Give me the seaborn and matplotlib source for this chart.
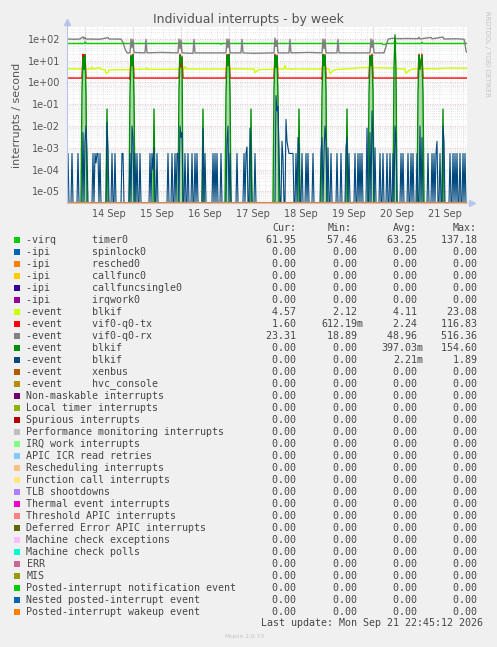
import numpy as np
import matplotlib
matplotlib.use("Agg")
import matplotlib.pyplot as plt
import matplotlib.ticker as mticker
from matplotlib.patches import Rectangle
import seaborn as sns

# ==========================================
# DATA (hours since 13 Sep 00:00, 30 min steps)
# ==========================================

W, H, DPI = 497, 647, 100
YMIN, YMAX = 2.9e-6, 355.0
T0, T1 = 15.25, 215.25

day_labels = ["14 Sep", "15 Sep", "16 Sep", "17 Sep", "18 Sep", "19 Sep", "20 Sep", "21 Sep"]
day_noon = [36, 60, 84, 108, 132, 156, 180, 204]
day_start = [24, 48, 72, 96, 120, 144, 168, 192]

# -virq timer0
timer_t = [15.25, 24.0, 24.25, 24.75, 72.25, 72.75, 73.25, 91.75, 92.25, 92.75,
           172.75, 173.25, 174.25, 174.75, 178.75, 179.25, 179.75, 192.25, 192.75, 193.25, 215.25]
timer_v = [62, 62, 74, 62, 62, 66, 62, 62, 57, 62,
           62, 56, 56, 62, 62, 98, 62, 62, 70, 62, 62]

# -event blkif (yellow-green)
blk1_t = [15.25, 20.0, 23.25, 23.75, 24.25, 27.25, 27.75, 28.25, 31.75, 32.25, 34.25, 34.75, 35.75,
          36.25, 47.25, 47.75, 48.75, 54.75, 55.25, 55.75, 71.75, 72.25, 72.75, 73.75, 74.25, 74.75,
          95.25, 95.75, 96.25, 108.75, 109.25, 110.25, 111.25, 119.25, 119.75, 120.75, 123.75, 124.25,
          124.75, 143.25, 143.75, 144.25, 146.25, 146.75, 148.25, 150.25, 163.0, 166.75, 167.25, 168.25,
          176.0, 184.25, 184.75, 186.25, 188.25, 191.75, 192.25, 192.75, 200.0, 206.0, 215.25]
blk1_v = [4.3, 4.2, 4.4, 9.0, 4.2, 4.2, 5.0, 4.2, 4.8, 4.0, 3.9, 2.6, 2.9,
          3.8, 3.9, 10.0, 4.1, 4.1, 4.7, 4.0, 4.1, 12.0, 4.1, 4.2, 5.5, 4.2,
          4.2, 11.0, 4.3, 4.2, 2.8, 3.4, 3.9, 4.1, 12.0, 4.2, 4.2, 6.0,
          4.2, 4.2, 10.0, 4.5, 4.2, 2.5, 3.5, 4.0, 4.8, 4.8, 12.0, 4.8,
          4.6, 4.2, 2.6, 3.6, 4.2, 4.3, 11.0, 4.4, 4.3, 4.6, 4.5]

# -event vif0-q0-tx
tx_t = [15.25, 22.75, 23.25, 23.75, 24.25, 24.75,
        46.25, 46.75, 47.25, 47.75, 48.25, 48.75,
        71.25, 71.75, 72.25, 72.75, 73.25,
        94.75, 95.25, 95.75, 96.25, 96.75,
        118.75, 119.25, 119.75, 120.25, 120.75,
        142.25, 142.75, 143.25, 143.75, 144.25, 144.75,
        166.25, 166.75, 167.25, 167.75, 168.25,
        190.75, 191.25, 191.75, 192.25, 192.75, 193.25, 215.25]
tx_v = [1.6, 1.6, 20, 8, 19, 1.6,
        1.6, 1.4, 18, 6, 20, 1.6,
        1.6, 20, 5, 16, 1.6,
        1.6, 19, 8, 20, 1.6,
        1.6, 20, 7, 18, 1.6,
        1.6, 1.4, 20, 6, 19, 1.6,
        1.6, 18, 6, 20, 1.6,
        1.6, 20, 5, 7, 20, 1.6, 1.6]

# -event vif0-q0-rx
rx_t = [15.25, 19.25, 21.75, 23.25, 23.75, 24.25, 24.75, 31.75, 35.75, 36.25, 42.25, 43.25, 44.25,
        45.25, 46.75, 47.25, 47.75, 48.25, 48.75, 54.25, 54.75, 55.25, 62.0, 70.75, 71.25, 71.75,
        72.25, 72.75, 78.25, 78.75, 79.25, 88.0, 94.75, 95.25, 95.75, 96.25, 96.75, 102.25, 102.75,
        103.25, 108.75, 118.75, 119.25, 119.75, 120.25, 120.75, 126.25, 126.75, 127.25, 136.0, 142.75,
        143.25, 143.75, 144.25, 144.75, 150.25, 150.75, 151.25, 160.0, 166.75, 167.25, 167.75, 168.25,
        168.75, 173.75, 174.75, 175.75, 176.25, 179.25, 180.25, 185.0, 190.75, 191.25, 191.75, 197.25,
        197.75, 203.25, 203.75, 210.0, 213.75, 214.25, 214.75, 215.25]
rx_v = [100, 97, 100, 125, 100, 118, 100, 97, 116, 100, 98, 70, 35,
        23, 23, 100, 40, 95, 24, 23, 95, 23, 24, 23, 100, 35,
        90, 23, 22, 95, 23, 23, 23, 100, 40, 95, 23, 23, 95,
        23, 22, 23, 110, 45, 90, 23, 23, 95, 23, 24, 23,
        100, 35, 95, 23, 23, 95, 23, 23, 23, 100, 40, 90,
        23, 23, 45, 95, 102, 110, 103, 105, 103, 120, 100, 118,
        102, 122, 100, 102, 98, 60, 28, 24]

# -event blkif (dark green): night bursts and daytime singles
blk2_night_t = [22.75, 23.25, 23.75, 24.25, 24.75,
                46.75, 47.25, 47.75, 48.25, 48.75,
                71.25, 71.75, 72.25, 72.75,
                94.75, 95.25, 95.75, 96.25, 96.75,
                118.75, 119.25, 119.75, 120.25, 120.75,
                142.75, 143.25, 143.75, 144.25, 144.75,
                166.25, 166.75, 167.25, 167.75, 168.25,
                178.75, 179.25, 179.75,
                190.75, 191.25, 191.75, 192.25, 192.75, 193.25]
blk2_night_v = [0.5, 15, 4, 18, 0.3,
                0.4, 16, 6, 19, 0.2,
                0.5, 18, 8, 14,
                0.3, 17, 6, 19, 0.4,
                0.5, 18, 5, 16, 0.2,
                0.3, 19, 6, 17, 0.5,
                0.3, 16, 6, 18, 0.4,
                5, 154.6, 3,
                0.3, 18, 4, 10, 17, 0.3]
blk2_day_t = [35.25, 58.75, 83.25, 107.25, 131.25, 155.25, 203.25]
blk2_day_v = [0.06, 0.06, 0.06, 0.06, 0.06, 0.06, 0.06]

# -event blkif (dark blue)
blk3_t = [15.75, 17.75, 20.75, 23.25, 24.25, 24.75, 25.25, 28.25, 29.25, 29.75, 30.25, 30.75, 31.75,
          35.25, 35.75, 37.75, 39.25, 42.75, 43.25, 46.75, 47.75, 48.25, 49.25, 50.25, 51.75, 56.75,
          57.75, 58.25, 58.75, 60.25, 65.75, 67.75, 69.25, 70.25, 70.75, 71.75, 72.25, 72.75, 74.25,
          75.75, 77.75, 79.25, 80.25, 83.25, 84.25, 88.25, 89.25, 90.25, 92.25, 95.25, 95.75, 96.75,
          100.25, 103.75, 104.75, 105.25, 106.75, 107.25, 109.25, 119.75, 120.25, 120.75, 121.25,
          122.75, 123.25, 124.75, 125.25, 125.75, 126.25, 126.75, 127.25, 127.75, 128.25, 129.75,
          130.75, 131.25, 132.75, 134.75, 135.75, 138.25, 142.25, 142.75, 143.75, 144.25, 144.75,
          145.75, 147.25, 150.25, 152.25, 154.75, 155.25, 156.25, 159.25, 160.75, 161.75, 162.75,
          165.25, 166.75, 167.75, 168.25, 169.25, 171.75, 173.25, 175.25, 176.75, 178.25, 179.25,
          179.75, 182.25, 183.25, 185.75, 187.25, 188.25, 190.25, 191.75, 192.75, 195.75, 197.75,
          198.75, 199.75, 200.25, 201.75, 203.25, 203.75, 206.75, 208.25, 209.25, 210.25, 211.75,
          213.25, 214.25]
blk3_v = [5.5e-4, 5.5e-4, 5.5e-4, 5e-3, 2e-3, 1e-2, 5.5e-4, 5.5e-4, 5.5e-4, 2e-4, 5.5e-4, 5.5e-4, 5.5e-4,
          1.5e-2, 1e-3, 5.5e-4, 5.5e-4, 5.5e-4, 5.5e-4, 5.5e-4, 1e-2, 3e-3, 5.5e-4, 5.5e-4, 5.5e-4, 5.5e-4,
          5.5e-4, 1e-4, 1e-3, 5.5e-4, 5.5e-4, 5.5e-4, 5.5e-4, 5.5e-4, 5.5e-4, 1e-2, 3e-3, 5e-3, 5.5e-4,
          5.5e-4, 5.5e-4, 5.5e-4, 5.5e-4, 8e-3, 5.5e-4, 5.5e-4, 5.5e-4, 5.5e-4, 5.5e-4, 2e-3, 1e-2, 5.5e-4,
          5.5e-4, 5.5e-4, 5.5e-4, 1.1e-3, 8e-3, 5.5e-4, 5.5e-4, 0.25, 0.05, 0.08, 1e-3,
          2e-3, 3e-4, 2e-2, 2e-3, 1e-3, 5.5e-4, 5.5e-4, 5.5e-4, 5.5e-4, 5.5e-4, 5.5e-4,
          3e-3, 1e-3, 5.5e-4, 5.5e-4, 5.5e-4, 5.5e-4, 5.5e-4, 3e-3, 5.5e-4, 1e-2, 2e-3,
          1e-3, 5.5e-4, 5.5e-4, 5.5e-4, 1e-3, 3e-3, 5.5e-4, 5.5e-4, 5.5e-4, 5.5e-4, 5.5e-4,
          8e-3, 5e-3, 0.05, 3e-3, 1e-3, 5.5e-4, 5.5e-4, 5.5e-4, 5.5e-4, 5.5e-4, 1e-2,
          2e-3, 5.5e-4, 5.5e-4, 5.5e-4, 5.5e-4, 5.5e-4, 5.5e-4, 1e-2, 3e-3, 5.5e-4, 5.5e-4,
          5.5e-4, 5.5e-4, 2e-3, 5.5e-4, 1e-2, 2e-3, 5.5e-4, 5.5e-4, 5.5e-4, 5.5e-4, 5.5e-4,
          5.5e-4, 5.5e-4]

# legend table
leg_a = ["-virq", "-ipi", "-ipi", "-ipi", "-ipi", "-ipi", "-event", "-event", "-event", "-event",
         "-event", "-event", "-event", "Non-maskable interrupts", "Local timer interrupts",
         "Spurious interrupts", "Performance monitoring interrupts", "IRQ work interrupts",
         "APIC ICR read retries", "Rescheduling interrupts", "Function call interrupts",
         "TLB shootdowns", "Thermal event interrupts", "Threshold APIC interrupts",
         "Deferred Error APIC interrupts", "Machine check exceptions", "Machine check polls",
         "ERR", "MIS", "Posted-interrupt notification event", "Nested posted-interrupt event",
         "Posted-interrupt wakeup event"]
leg_b = ["timer0", "spinlock0", "resched0", "callfunc0", "callfuncsingle0", "irqwork0", "blkif",
         "vif0-q0-tx", "vif0-q0-rx", "blkif", "blkif", "xenbus", "hvc_console"] + [""] * 19
colors = ["#00CC00", "#0066B3", "#FF8000", "#FFCC00", "#330099", "#990099", "#CCFF00", "#FF0000",
          "#808080", "#008F00", "#00487D", "#B35A00", "#B38F00", "#6B006B", "#8FB300", "#B30000",
          "#BEBEBE", "#80FF80", "#80C9FF", "#FFC080", "#FFE680", "#AA80FF", "#EE00CC", "#FF8080",
          "#666600", "#FFBFFF", "#00FFCC", "#CC6699", "#999900", "#00CC00", "#0066B3", "#FF8000"]
cur_vals = [61.95, 0, 0, 0, 0, 0, 4.57, 1.60, 23.31, 0, 0] + [0] * 21
min_vals = [57.46, 0, 0, 0, 0, 0, 2.12, 0.61219, 18.89, 0, 0] + [0] * 21
avg_vals = [63.25, 0, 0, 0, 0, 0, 4.11, 2.24, 48.96, 0.39703, 0.00221] + [0] * 21
max_vals = [137.18, 0, 0, 0, 0, 0, 23.08, 116.83, 516.36, 154.60, 1.89] + [0] * 21


# ==========================================
# HELPERS
# ==========================================

def fx(px):
    return px / W


def fy(py):
    return 1 - py / H


def fmt(v):
    if v != 0 and abs(v) < 1:
        return f"{v * 1000:.2f}m"
    return f"{v:.2f} "


def dense(ts, vs):
    # put sparse samples on the 30 min grid, zero elsewhere
    arr = np.zeros(len(grid))
    idx = np.round((np.array(ts) - T0) / 0.5).astype(int)
    arr[idx] = vs
    return arr


grid = T0 + 0.5 * np.arange(401)

# ==========================================
# FIGURE
# ==========================================

BG = "#F0F0F0"
TXT = "#555555"
GRID_MAJ = "#E4A8A8"
GRID_MIN = "#D4D4D4"
AXC = "#B8C4EE"

sns.set_style("white")
plt.rcParams["font.family"] = ["DejaVu Sans"]

fig = plt.figure(figsize=(W / DPI, H / DPI), dpi=DPI, facecolor=BG)
ax = fig.add_axes([fx(67), fy(203), 400 / W, 176 / H])
ax.set_facecolor("white")

blk2_night = dense(blk2_night_t, blk2_night_v)
blk2_all = blk2_night + dense(blk2_day_t, blk2_day_v)
blk3_all = dense(blk3_t, blk3_v)
zero = np.zeros(len(grid))

# pale halo behind the night bursts of the dark green blkif line
ax.fill_between(grid, YMIN, np.clip(blk2_night, YMIN, None), color="#8ED18E",
                alpha=0.75, lw=0, zorder=1.5)

series = {0: (timer_t, timer_v), 6: (blk1_t, blk1_v), 7: (tx_t, tx_v), 8: (rx_t, rx_v),
          9: (grid, blk2_all), 10: (grid, blk3_all)}

for i, c in enumerate(colors):
    xs, ys = series.get(i, (grid, zero))
    ys = np.clip(np.asarray(ys, dtype=float), YMIN, None)
    lw = 1.6 if i == 31 else (0.8 if i == 10 else 1.0)
    sns.lineplot(x=xs, y=ys, ax=ax, color=c, linewidth=lw,
                 legend=False, sort=False, estimator=None, zorder=2 + i * 0.01)

ax.set_yscale("log")
ax.set_ylim(YMIN, YMAX)
ax.set_xlim(T0, T1)

ax.yaxis.set_major_locator(mticker.FixedLocator([1e-5, 1e-4, 1e-3, 1e-2, 1e-1, 1, 10, 100]))
ax.yaxis.set_major_formatter(mticker.FuncFormatter(lambda v, p: f"{v:.0e}"))
ax.yaxis.set_minor_locator(mticker.LogLocator(base=10, subs=range(2, 10), numticks=30))
ax.yaxis.set_minor_formatter(mticker.NullFormatter())

ax.xaxis.set_major_locator(mticker.FixedLocator(day_noon))
ax.xaxis.set_major_formatter(mticker.FixedFormatter(day_labels))
ax.xaxis.set_minor_locator(mticker.MultipleLocator(3))

ax.tick_params(which="both", length=0, labelsize=7, labelcolor=TXT)
ax.tick_params(axis="y", pad=5)
ax.tick_params(axis="x", pad=4)

ax.grid(False)
ax.grid(which="minor", axis="both", color=GRID_MIN, ls=(0, (1, 2)), lw=0.5)
ax.grid(which="major", axis="y", color=GRID_MAJ, ls=(0, (1, 2)), lw=0.6)
for d in day_start:
    ax.axvline(d, color=GRID_MAJ, ls=(0, (1, 2)), lw=0.6, zorder=1)
ax.set_axisbelow(True)

for s in ["top", "right"]:
    ax.spines[s].set_visible(False)
ax.spines["left"].set_color(AXC)
ax.spines["bottom"].set_color(AXC)
ax.spines["left"].set_bounds(YMIN, YMAX * 1.3)
ax.plot([0], [1.03], marker="^", color=AXC, ms=4, transform=ax.transAxes, clip_on=False)
ax.plot([1.012], [0], marker=">", color=AXC, ms=4, transform=ax.transAxes, clip_on=False)

ax.set_xlabel("")
ax.set_ylabel("interrupts / second", fontsize=8, color=TXT, labelpad=4)

fig.text(fx(248), fy(23.3), "Individual interrupts - by week", ha="center", va="baseline",
         fontsize=9, color=TXT)
fig.text(fx(487), fy(54), "RRDTOOL / TOBI OETIKER", ha="center", va="center", rotation=270,
         fontsize=4.9, color="#C4C4C4")

# ==========================================
# LEGEND TABLE
# ==========================================

mono = dict(family="DejaVu Sans Mono", fontsize=7.2, color="#474747", va="center")

for lab, xr in zip(["Cur:", "Min:", "Avg:", "Max:"], [296, 352, 417, 477]):
    fig.text(fx(xr), fy(228), lab, ha="right", **mono)

for i in range(len(leg_a)):
    y = 240 + 12 * i
    fig.patches.append(Rectangle((fx(14), fy(y + 2.8)), 5.5 / W, 5.5 / H,
                                 transform=fig.transFigure, color=colors[i], lw=0))
    label = f"{leg_a[i]:<11}{leg_b[i]}" if leg_b[i] else leg_a[i]
    fig.text(fx(26.5), fy(y), label, ha="left", **mono)
    for v, xr in zip([cur_vals[i], min_vals[i], avg_vals[i], max_vals[i]], [302, 363, 423, 483]):
        fig.text(fx(xr), fy(y), fmt(v), ha="right", **mono)

fig.text(fx(483), fy(623.5), "Last update: Mon Sep 21 22:45:12 2026", ha="right", **mono)
fig.text(fx(245), fy(636.5), "Munin 2.0.73", ha="center", va="center", fontsize=4.3,
         color="#C0C0C0")

fig.savefig("out.png", dpi=DPI, facecolor=BG)
